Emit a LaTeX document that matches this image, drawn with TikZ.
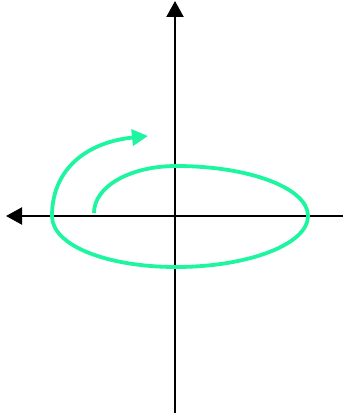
\documentclass[tikz,border=0pt]{standalone}
\usepackage{tikz}
\usetikzlibrary{arrows.meta}
\definecolor{spiralgreen}{HTML}{1EF5A0}
\tikzset{
  axis/.style={-{Triangle[length=16pt 0,width=17pt 0]},line width=2.1pt,black},
  spiral/.style={draw=spiralgreen,line width=3.8pt,-{Triangle[length=16pt 0,width=16pt 0]}},
}
\begin{document}
\begin{tikzpicture}[x=1pt,y=-1pt]
  \useasboundingbox (0,0) rectangle (346,419);
  % axes
  \coordinate (ybot) at (175,413);
  \coordinate (ytop) at (175,1);
  \coordinate (xright) at (343,216);
  \coordinate (xleft) at (6,216);
  \draw[axis] (ybot) -- (ytop);
  \draw[axis] (xright) -- (xleft);
  % spiral
  \coordinate (start) at (94,213);
  \coordinate (top) at (176,166);
  \coordinate (right) at (308,216);
  \coordinate (bot) at (176,267);
  \coordinate (left) at (52,216);
  \coordinate (tip) at (148,136);
  \draw[spiral] (start) .. controls (94,186) and (131,166) .. (top)
    .. controls (249,166) and (308,188) .. (right)
    .. controls (308,244) and (249,267) .. (bot)
    .. controls (108,267) and (52,246) .. (left)
    .. controls (52,168) and (88,142) .. (tip);
\end{tikzpicture}
\end{document}
